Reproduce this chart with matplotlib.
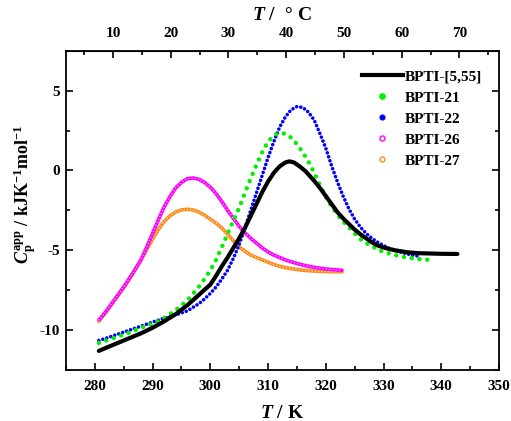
import matplotlib
matplotlib.use('Agg')
import matplotlib.pyplot as plt
from matplotlib.lines import Line2D
from matplotlib.ticker import MultipleLocator, FixedLocator

plt.rcParams['font.family'] = 'Liberation Serif'
plt.rcParams['font.weight'] = 'bold'
plt.rcParams['axes.unicode_minus'] = False
plt.rcParams['mathtext.fontset'] = 'custom'
plt.rcParams['mathtext.rm'] = 'Liberation Serif:bold'
plt.rcParams['mathtext.it'] = 'Liberation Serif:italic:bold'
plt.rcParams['mathtext.bf'] = 'Liberation Serif:bold'

# BPTI-[5,55]
t_555 = [280.7, 282, 284, 286, 288, 290, 292, 294, 296, 298, 300, 301, 302, 303, 304,
         305, 306, 307, 308, 309, 310, 311, 312, 313, 313.7, 314.5, 315.5, 316.5, 318,
         319, 320, 321, 322, 323, 324, 325, 326, 327, 328, 329, 330, 331, 332, 334,
         336, 338, 340, 342.8]
cp_555 = [-11.3, -11.1, -10.8, -10.5, -10.2, -9.85, -9.45, -9.0, -8.45, -7.8, -7.15,
          -6.6, -6.0, -5.45, -4.85, -4.25, -3.6, -2.85, -2.1, -1.35, -0.7, -0.15, 0.25,
          0.5, 0.57, 0.5, 0.25, -0.05, -0.65, -1.1, -1.6, -2.1, -2.6, -3.0, -3.35, -3.7,
          -4.0, -4.25, -4.5, -4.7, -4.82, -4.92, -5.0, -5.12, -5.18, -5.2, -5.22, -5.23]

# BPTI-21
t_21 = [280.7, 282, 284, 286, 288, 290, 292, 294, 296, 298, 299, 300, 301, 302, 303,
        304, 305, 306, 307, 308, 309, 310, 311, 312, 313, 314, 315, 316, 317, 318, 319,
        320, 321, 322, 323, 324, 325, 326, 327, 328, 329, 330, 332, 334, 336, 338]
cp_21 = [-10.8, -10.65, -10.4, -10.15, -9.85, -9.6, -9.25, -8.75, -8.15, -7.3, -6.8,
         -6.25, -5.6, -4.8, -3.95, -3.15, -2.35, -1.4, -0.5, 0.35, 1.15, 1.8, 2.2, 2.35,
         2.3, 2.05, 1.65, 1.15, 0.55, -0.15, -0.95, -1.65, -2.25, -2.75, -3.2, -3.55,
         -3.95, -4.3, -4.55, -4.75, -4.95, -5.1, -5.3, -5.45, -5.55, -5.6]

# BPTI-22
t_22 = [280.7, 282, 284, 286, 288, 290, 292, 294, 296, 298, 299, 300, 301, 302, 303,
        304, 305, 306, 307, 308, 309, 310, 311, 312, 313, 314, 315, 316, 317, 318, 319,
        320, 321, 322, 323, 324, 325, 326, 327, 328, 329, 330, 331, 332, 333, 334, 335,
        336.3]
cp_22 = [-10.65, -10.5, -10.25, -10.0, -9.75, -9.5, -9.25, -9.05, -8.8, -8.35, -8.05,
         -7.7, -7.3, -6.8, -6.25, -5.5, -4.65, -3.6, -2.5, -1.4, -0.3, 0.8, 1.8, 2.7,
         3.35, 3.8, 4.0, 3.95, 3.65, 3.15, 2.3, 1.4, 0.3, -0.7, -1.6, -2.4, -3.05, -3.55,
         -3.95, -4.25, -4.5, -4.7, -4.88, -5.0, -5.12, -5.22, -5.3, -5.38]

# BPTI-26
t_26 = [280.7, 281, 282, 283, 284, 285, 286, 287, 288, 289, 290, 291, 292, 293, 294,
        295, 296, 297, 298, 299, 300, 301, 302, 303, 304, 305, 306, 307, 308, 309, 310,
        311, 312, 313, 314, 315, 316, 317, 318, 319, 320, 321, 322, 322.8]
cp_26 = [-9.35, -9.25, -8.8, -8.3, -7.8, -7.3, -6.75, -6.2, -5.6, -4.8, -3.95, -3.1,
         -2.3, -1.65, -1.1, -0.75, -0.52, -0.47, -0.55, -0.75, -1.05, -1.45, -1.95, -2.5,
         -3.0, -3.5, -3.9, -4.25, -4.55, -4.85, -5.1, -5.3, -5.45, -5.6, -5.72, -5.82,
         -5.92, -6.0, -6.07, -6.12, -6.17, -6.2, -6.23, -6.25]

# BPTI-27
t_27 = [280.7, 281, 282, 283, 284, 285, 286, 287, 288, 289, 290, 291, 292, 293, 294,
        295, 296, 297, 298, 299, 300, 301, 302, 303, 304, 305, 306, 307, 308, 309, 310,
        311, 312, 313, 314, 315, 316, 318, 320, 322.8]
cp_27 = [-9.45, -9.3, -8.85, -8.35, -7.85, -7.35, -6.8, -6.2, -5.6, -4.95, -4.3, -3.7,
         -3.2, -2.85, -2.6, -2.47, -2.43, -2.47, -2.6, -2.8, -3.05, -3.3, -3.6, -4.0,
         -4.4, -4.8, -5.05, -5.3, -5.45, -5.6, -5.75, -5.88, -6.0, -6.08, -6.15, -6.2,
         -6.25, -6.3, -6.33, -6.35]

labels = ['BPTI-[5,55]', 'BPTI-21', 'BPTI-22', 'BPTI-26', 'BPTI-27']
celsius_ticks = [10, 20, 30, 40, 50, 60, 70]
celsius_minor = [5, 15, 25, 35, 45, 55, 65, 75]
c_green = '#00f000'
c_blue = '#0000ff'
c_pink = '#ff00ff'
c_orange = '#ff8c1a'

fig = plt.figure(figsize=(5.11, 4.21), dpi=100)
ax = fig.add_axes([0.129, 0.121, 0.8475, 0.7586])

# open circle series: coloured band with white holes
ax.plot(t_27, cp_27, color=c_orange, lw=2.6, solid_capstyle='round')
ax.plot(t_27, cp_27, color='white', lw=0.9, ls=(0, (0.01, 2.6)), dash_capstyle='round')
ax.plot(t_26, cp_26, color=c_pink, lw=2.6, solid_capstyle='round')
ax.plot(t_26, cp_26, color='white', lw=0.9, ls=(0, (0.01, 2.6)), dash_capstyle='round')
# dotted series
ax.plot(t_22, cp_22, color=c_blue, lw=2.6, ls=(0, (0.01, 1.15)), dash_capstyle='round')
ax.plot(t_21, cp_21, color=c_green, lw=3.2, ls=(0, (0.01, 1.75)), dash_capstyle='round')
ax.plot(t_555, cp_555, color='black', lw=3.0, solid_capstyle='round')

ax.set_xlim(275, 350)
ax.set_ylim(-12.5, 7.5)
ax.xaxis.set_major_locator(MultipleLocator(10))
ax.xaxis.set_minor_locator(MultipleLocator(5))
ax.yaxis.set_major_locator(MultipleLocator(5))
ax.yaxis.set_minor_locator(MultipleLocator(2.5))
ax.tick_params(which='both', direction='in', top=False, right=True, width=1.2,
               labelsize=11)
ax.tick_params(axis='x', which='major', length=5, pad=7)
ax.tick_params(axis='y', which='major', length=5, pad=4)
ax.tick_params(which='minor', length=3)
for s in ax.spines.values():
    s.set_linewidth(1.3)

ax.set_xlabel(r'$T\mathrm{\ /\ K}$', fontsize=14, labelpad=9)
ax.set_ylabel(r'$C_{\mathrm{p}}^{\mathrm{app}}\mathrm{\ /\ kJK^{-1}mol^{-1}}$',
              fontsize=13)
ax.yaxis.set_label_coords(-0.062, 0.55)

sec = ax.secondary_xaxis('top', functions=(lambda k: k - 273.15, lambda c: c + 273.15))
sec.xaxis.set_major_locator(FixedLocator(celsius_ticks))
sec.xaxis.set_minor_locator(FixedLocator(celsius_minor))
sec.tick_params(which='both', direction='in', width=1.2, labelsize=11)
sec.tick_params(which='major', length=5, pad=8)
sec.tick_params(which='minor', length=3)
sec.set_xlabel(r'$T\mathrm{\ /\ \ °\ C}$', fontsize=14, labelpad=5)

handles = [
    Line2D([], [], color='black', lw=3.0),
    Line2D([], [], ls='none', marker='o', ms=3.8, color=c_green),
    Line2D([], [], ls='none', marker='o', ms=3.4, color=c_blue),
    Line2D([], [], ls='none', marker='o', ms=3.6, mfc='none', mec=c_pink, mew=1.0),
    Line2D([], [], ls='none', marker='o', ms=3.6, mfc='none', mec=c_orange, mew=1.0),
]
ax.legend(handles, labels, loc='upper left', bbox_to_anchor=(0.683, 0.94),
          frameon=False, borderaxespad=0, borderpad=0, handlelength=2.7,
          handletextpad=0.1, labelspacing=0.48, prop={'size': 11, 'weight': 'bold'})

fig.savefig('out.png', dpi=100)
